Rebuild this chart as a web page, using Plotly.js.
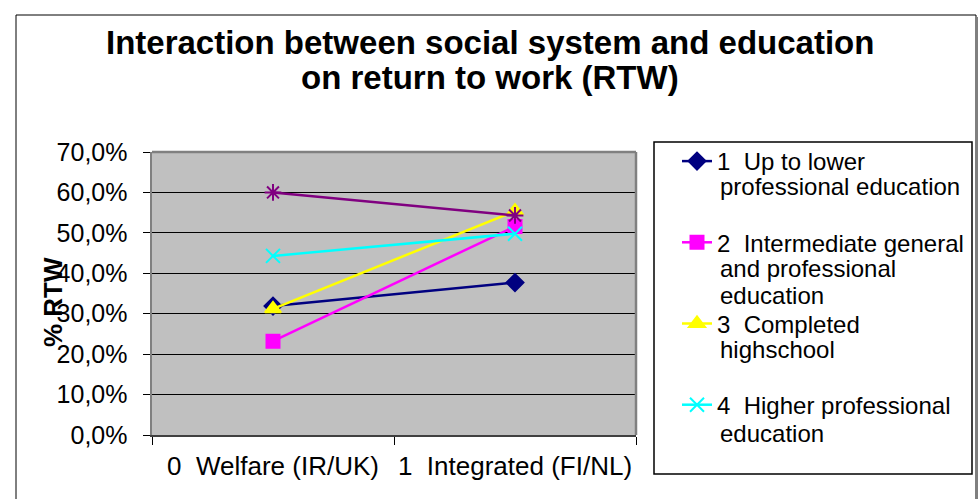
<!DOCTYPE html>
<html>
<head>
<meta charset="utf-8">
<script src="https://cdn.plot.ly/plotly-3.0.1.min.js"></script>
<style>
html,body{margin:0;padding:0;background:#fff;}
#chart{width:978px;height:499px;}
</style>
</head>
<body>
<div id="chart"></div>
<script>
// ---- data ----
var categories = ["0  Welfare (IR/UK)", "1  Integrated (FI/NL)"];
// legend labels, one list of lines per series (series 5 has no visible legend entry)
var seriesLabelLines = [
  ["1  Up to lower", "professional education"],
  ["2  Intermediate general", "and professional", "education"],
  ["3  Completed", "highschool"],
  ["4  Higher professional", "education"],
  ["5  University"]
];
var s1 = [0.319, 0.377];
var s2 = [0.232, 0.516];
var s3 = [0.312, 0.554];
var s4 = [0.443, 0.498];
var s5 = [0.600, 0.543];
var yTicks = [0, 0.1, 0.2, 0.3, 0.4, 0.5, 0.6, 0.7];
var titleLines = ["Interaction between social system and education", "on return to work (RTW)"];
var yTitle = "% RTW";

var FONT = "Liberation Sans, Arial, sans-serif";

var styles = [
  {color:"#000080", symbol:"diamond", size:13, legend:true},
  {color:"#FF00FF", symbol:"square", size:13, legend:true},
  {color:"#FFFF00", symbol:"triangle-up", size:14, legend:true},
  {color:"#00FFFF", symbol:"x-thin-open", size:14, legend:true},
  {color:"#800080", symbol:"asterisk-open", size:14, legend:false}
];
var values = [s1, s2, s3, s4, s5];

var traces = values.map(function(v, i){
  var st = styles[i];
  return {
    type:"scatter", mode:"lines+markers",
    x: categories, y: v, name: seriesLabelLines[i][0],
    legendgroup: "g" + i,
    showlegend: st.legend,
    line:{color:st.color, width:2.5},
    marker:{symbol:st.symbol, size:st.size, color:st.color,
            line:{color:st.color, width:2}},
    cliponaxis:false
  };
});

// plot area pixel geometry
var L=152, R=636, T=152, B=435, W=978, H=499;
function px(x){ return (x-L)/(R-L); }
function py(y){ return (B-y)/(B-T); }

var annotations = [
  {text:"<b>" + yTitle + "</b>", textangle:-90, xref:"paper", yref:"paper",
   x:px(53), y:py(302), xanchor:"center", yanchor:"middle", showarrow:false,
   font:{family:FONT, size:26, color:"#000"}},
  {text:"<b>" + titleLines[0] + "</b>", xref:"paper", yref:"paper",
   x:px(490), y:py(43), xanchor:"center", yanchor:"middle", showarrow:false,
   font:{family:FONT, size:33, color:"#000"}},
  {text:"<b>" + titleLines[1] + "</b>", xref:"paper", yref:"paper",
   x:px(490), y:py(78), xanchor:"center", yanchor:"middle", showarrow:false,
   font:{family:FONT, size:33, color:"#000"}}
];

// continuation lines of legend labels
var legendTop = [160, 242, 323, 407];
var LEG_TEXT_X = 718, LEG_LINE_H = 26.5;
for (var i = 0; i < 4; i++) {
  for (var j = 1; j < seriesLabelLines[i].length; j++) {
    annotations.push({
      text: seriesLabelLines[i][j], xref:"paper", yref:"paper",
      x: px(LEG_TEXT_X), y: py(legendTop[i] + j*LEG_LINE_H),
      xanchor:"left", yanchor:"middle", showarrow:false,
      font:{family:FONT, size:24, color:"#000"}
    });
  }
}

var layout = {
  width:W, height:H,
  margin:{l:L, r:W-R, t:T, b:H-B, pad:0, autoexpand:false},
  paper_bgcolor:"#ffffff",
  plot_bgcolor:"#C0C0C0",
  separators:",.",
  font:{family:FONT, color:"#000"},
  xaxis:{
    type:"category", range:[-0.5,1.5],
    showgrid:false, zeroline:false,
    showline:true, linecolor:"#404040", linewidth:1.5,
    ticks:"outside", ticklen:8, tickcolor:"#000", tickwidth:1,
    tickson:"boundaries", tickangle:0,
    tickfont:{family:FONT, size:26, color:"#000"},
    ticklabelstandoff:7,
    fixedrange:true
  },
  yaxis:{
    range:[0,0.7], tickvals:yTicks, tickformat:".1%",
    showgrid:true, gridcolor:"#000", gridwidth:1,
    zeroline:false,
    showline:true, linecolor:"#808080", linewidth:2.5,
    ticks:"outside", ticklen:7, tickcolor:"#000", tickwidth:1,
    tickfont:{family:FONT, size:25, color:"#000"},
    ticklabelstandoff:10,
    fixedrange:true
  },
  showlegend:true,
  legend:{
    x:px(677), xref:"paper", y:py(139), yref:"paper",
    xanchor:"left", yanchor:"top",
    bgcolor:"rgba(0,0,0,0)", borderwidth:0,
    font:{family:FONT, size:24, color:"#000"},
    valign:"top", tracegroupgap:47, itemwidth:30, maxheight:420
  },
  shapes:[
    {type:"rect", xref:"paper", yref:"paper", x0:px(16), x1:px(976), y0:py(520), y1:py(15),
     line:{color:"#000", width:1}, fillcolor:"rgba(0,0,0,0)", layer:"below"},
    {type:"line", xref:"paper", yref:"paper", x0:px(977.5), x1:px(977.5), y0:py(520), y1:py(17),
     line:{color:"#808080", width:2}, layer:"below"},
    {type:"line", xref:"paper", yref:"paper", x0:0, x1:1, y0:1, y1:1,
     line:{color:"#808080", width:2.5}, layer:"above"},
    {type:"line", xref:"paper", yref:"paper", x0:1, x1:1, y0:0, y1:1,
     line:{color:"#808080", width:2.5}, layer:"above"},
    {type:"rect", xref:"paper", yref:"paper", x0:px(654), x1:px(972), y0:py(474), y1:py(142),
     line:{color:"#000", width:1.5}, fillcolor:"rgba(0,0,0,0)", layer:"below"}
  ],
  annotations: annotations
};

Plotly.newPlot("chart", traces, layout, {displayModeBar:false, staticPlot:true});
</script>
</body>
</html>
